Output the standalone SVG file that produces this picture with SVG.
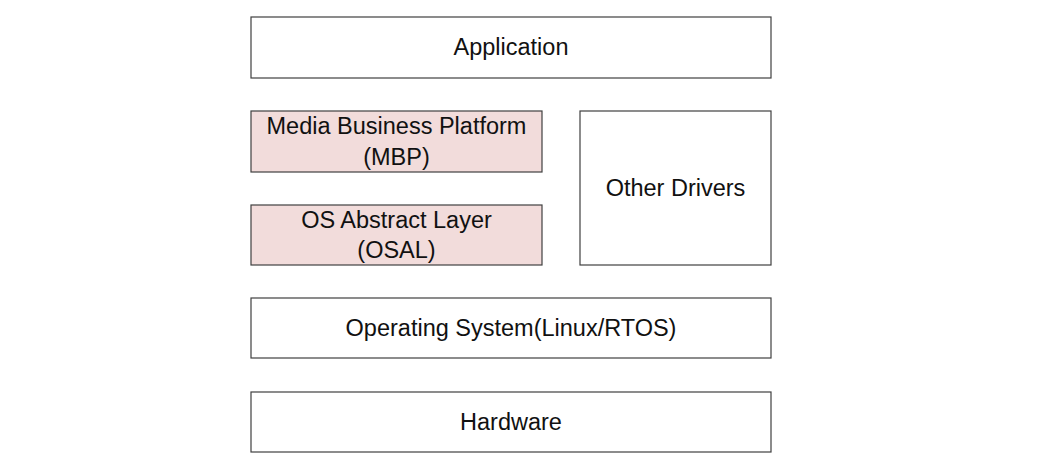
<svg xmlns="http://www.w3.org/2000/svg" width="1055" height="470" viewBox="0 0 1055 470">
<style>
.box{fill:#ffffff;stroke:#404040;stroke-width:1.2}
.pink{fill:#f2dcdb;stroke:#404040;stroke-width:1.2}
text{font-family:"Liberation Sans",Arial,sans-serif;font-size:23.5px;fill:#111111;text-anchor:middle}
</style>
<rect width="1055" height="470" fill="#ffffff"/>
<g id="application"><rect class="box" x="251" y="17" width="520" height="61"/><text x="511" y="55">Application</text></g>
<g id="mbp"><rect class="pink" x="251" y="111" width="291" height="61"/><text x="396.5" y="134">Media Business Platform</text><text x="396.5" y="165">(MBP)</text></g>
<g id="osal"><rect class="pink" x="251" y="205" width="291" height="60"/><text x="396.5" y="228">OS Abstract Layer</text><text x="396.5" y="258">(OSAL)</text></g>
<g id="other-drivers"><rect class="box" x="580" y="111" width="191" height="154"/><text x="675.5" y="196">Other Drivers</text></g>
<g id="os"><rect class="box" x="251" y="298" width="520" height="60"/><text x="511" y="336">Operating System(Linux/RTOS)</text></g>
<g id="hardware"><rect class="box" x="251" y="392" width="520" height="60"/><text x="511" y="430">Hardware</text></g>
<g id="connectors"></g>
</svg>
